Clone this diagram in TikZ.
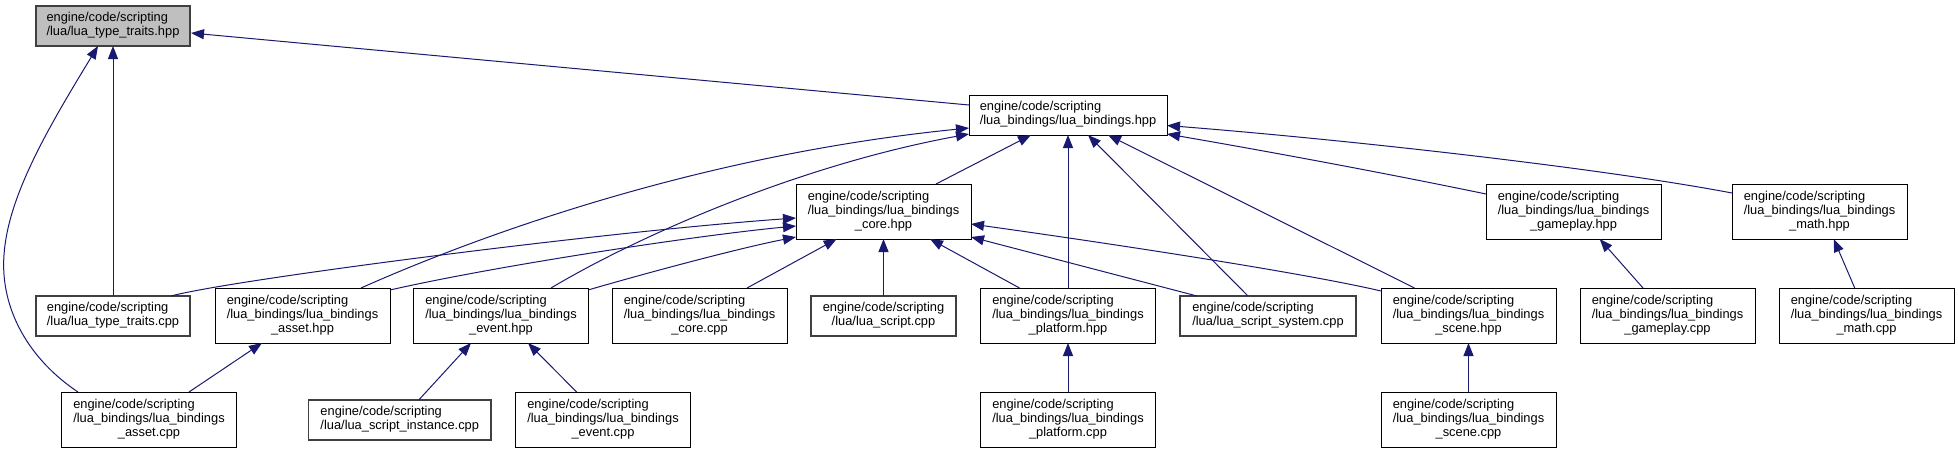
\documentclass[tikz,border=0pt]{standalone}
\usepackage{fontspec}
\setmainfont{Liberation Sans}
\usetikzlibrary{arrows.meta,calc}
\definecolor{edgeblue}{HTML}{191970}
\definecolor{rootfill}{HTML}{BFBFBF}
\definecolor{nodegrey}{HTML}{404040}
\newcommand\threeln[3]{\begin{tabular}{@{}l@{}}#1\\#2\\\multicolumn{1}{@{}c@{}}{#3}\end{tabular}}
\newcommand\twoln[2]{\begin{tabular}{@{}l@{}}#1\\\multicolumn{1}{@{}c@{}}{#2}\end{tabular}}
\tikzset{
  nbox/.style={draw=black, line width=1pt, fill=white, inner sep=0pt, minimum width=175pt, minimum height=55pt},
  gbox/.style={draw=nodegrey, line width=1.3pt, fill=white, inner sep=0pt, minimum height=40pt},
  rootbox/.style={gbox, fill=rootfill},
  dep/.style={draw=edgeblue, line width=1pt, -{Triangle[length=13pt,width=10pt]}},
}
\begin{document}
\begin{tikzpicture}[x=1pt, y=-1pt, font=\fontsize{12.85}{14.2}\selectfont]
\fill[white] (0,0) rectangle (1958,453);
\useasboundingbox (0,0) rectangle (1958,453);
% row 1
\node[rootbox, minimum width=154pt] (tth) at (113,26) {\twoln{engine/code/scripting}{/lua/lua\_type\_traits.hpp}};
\node[nbox, minimum width=198pt, minimum height=40pt] (lbh) at (1068,115) {\twoln{engine/code/scripting}{/lua\_bindings/lua\_bindings.hpp}};
% row 2
\node[nbox] (core) at (883.5,211.5) {\threeln{engine/code/scripting}{/lua\_bindings/lua\_bindings}{\_core.hpp}};
\node[nbox] (gph) at (1573.5,211.5) {\threeln{engine/code/scripting}{/lua\_bindings/lua\_bindings}{\_gameplay.hpp}};
\node[nbox] (mth) at (1819.5,211.5) {\threeln{engine/code/scripting}{/lua\_bindings/lua\_bindings}{\_math.hpp}};
% row 3
\node[gbox, minimum width=154pt] (ttc) at (113,316) {\twoln{engine/code/scripting}{/lua/lua\_type\_traits.cpp}};
\node[nbox] (ash) at (302.5,315.5) {\threeln{engine/code/scripting}{/lua\_bindings/lua\_bindings}{\_asset.hpp}};
\node[nbox] (evh) at (501,315.5) {\threeln{engine/code/scripting}{/lua\_bindings/lua\_bindings}{\_event.hpp}};
\node[nbox] (coc) at (699.5,315.5) {\threeln{engine/code/scripting}{/lua\_bindings/lua\_bindings}{\_core.cpp}};
\node[gbox, minimum width=145pt] (lsc) at (883.5,316) {\twoln{engine/code/scripting}{/lua/lua\_script.cpp}};
\node[nbox] (plh) at (1068,315.5) {\threeln{engine/code/scripting}{/lua\_bindings/lua\_bindings}{\_platform.hpp}};
\node[gbox, minimum width=176pt] (ssc) at (1268,316) {\twoln{engine/code/scripting}{/lua/lua\_script\_system.cpp}};
\node[nbox] (sch) at (1468.5,315.5) {\threeln{engine/code/scripting}{/lua\_bindings/lua\_bindings}{\_scene.hpp}};
\node[nbox] (gpc) at (1667.5,315.5) {\threeln{engine/code/scripting}{/lua\_bindings/lua\_bindings}{\_gameplay.cpp}};
\node[nbox] (mtc) at (1866.5,315.5) {\threeln{engine/code/scripting}{/lua\_bindings/lua\_bindings}{\_math.cpp}};
% row 4
\node[nbox] (asc) at (149,419.5) {\threeln{engine/code/scripting}{/lua\_bindings/lua\_bindings}{\_asset.cpp}};
\node[gbox, minimum width=182.5pt] (sic) at (399.75,420) {\twoln{engine/code/scripting}{/lua/lua\_script\_instance.cpp}};
\node[nbox] (evc) at (603,419.5) {\threeln{engine/code/scripting}{/lua\_bindings/lua\_bindings}{\_event.cpp}};
\node[nbox] (plc) at (1068,419.5) {\threeln{engine/code/scripting}{/lua\_bindings/lua\_bindings}{\_platform.cpp}};
\node[nbox] (scc) at (1468.5,419.5) {\threeln{engine/code/scripting}{/lua\_bindings/lua\_bindings}{\_scene.cpp}};
% edges to lua_type_traits.hpp
\draw[dep] ($(lbh)+(-99,-10)$) -- ($(tth)+(78,7)$);
\draw[dep] ($(ttc)+(0,-20)$) -- ($(tth)+(0,20)$);
\draw[dep] ($(asc)+(-71,-27.5)$) .. controls (30,360) and (0,310) .. (4,255) .. controls (8,195) and (50,125) .. ($(tth)+(-15,20)$);
% edges to lua_bindings.hpp
\draw[dep] ($(core)+(52.5,-27.5)$) -- ($(lbh)+(-37,20)$);
\draw[dep] ($(gph)+(-87.5,-17.5)$) .. controls (1380,172) and (1260,150) .. ($(lbh)+(99,19)$);
\draw[dep] ($(mth)+(-87.5,-18.5)$) .. controls (1600,168) and (1350,140) .. ($(lbh)+(99,10.5)$);
\draw[dep] ($(ash)+(58.5,-27.5)$) .. controls (480,235) and (700,155) .. ($(lbh)+(-99,13)$);
\draw[dep] ($(evh)+(50,-27.5)$) .. controls (640,235) and (800,165) .. ($(lbh)+(-99,19)$);
\draw[dep] ($(plh)+(0,-27.5)$) -- ($(lbh)+(0,20)$);
\draw[dep] ($(ssc)+(-20,-20)$) -- ($(lbh)+(20,20)$);
\draw[dep] ($(sch)+(-54,-27.5)$) -- ($(lbh)+(40,20)$);
% edges to lua_bindings_core.hpp
\draw[dep] ($(ttc)+(58,-20)$) .. controls (230,280) and (600,232) .. ($(core)+(-87.5,6.5)$);
\draw[dep] ($(ash)+(87.5,-25.5)$) .. controls (500,265) and (700,235) .. ($(core)+(-87.5,14.5)$);
\draw[dep] ($(evh)+(87,-25.5)$) .. controls (650,272) and (740,248) .. ($(core)+(-87.5,25.5)$);
\draw[dep] ($(coc)+(47.5,-27.5)$) -- ($(core)+(-46.8,27.5)$);
\draw[dep] ($(lsc)+(0,-20)$) -- ($(core)+(0,27.5)$);
\draw[dep] ($(plh)+(-48.5,-27.5)$) -- ($(core)+(46.5,27.5)$);
\draw[dep] ($(ssc)+(-71,-20)$) -- ($(core)+(87.5,25.5)$);
\draw[dep] ($(sch)+(-87.5,-24.5)$) .. controls (1300,272) and (1100,242) .. ($(core)+(87.5,12.5)$);
% other edges
\draw[dep] ($(gpc)+(-24.5,-27.5)$) -- ($(gph)+(26.2,27.5)$);
\draw[dep] ($(mtc)+(-11.8,-27.5)$) -- ($(mth)+(14.2,27.5)$);
\draw[dep] ($(asc)+(40,-27.5)$) -- ($(ash)+(-40.5,27.5)$);
\draw[dep] ($(sic)+(19,-20)$) -- ($(evh)+(-30,27.5)$);
\draw[dep] ($(evc)+(-26.4,-27.5)$) -- ($(evh)+(27,27.5)$);
\draw[dep] ($(plc)+(0,-27.5)$) -- ($(plh)+(0,27.5)$);
\draw[dep] ($(scc)+(0,-27.5)$) -- ($(sch)+(0,27.5)$);
\end{tikzpicture}
\end{document}
